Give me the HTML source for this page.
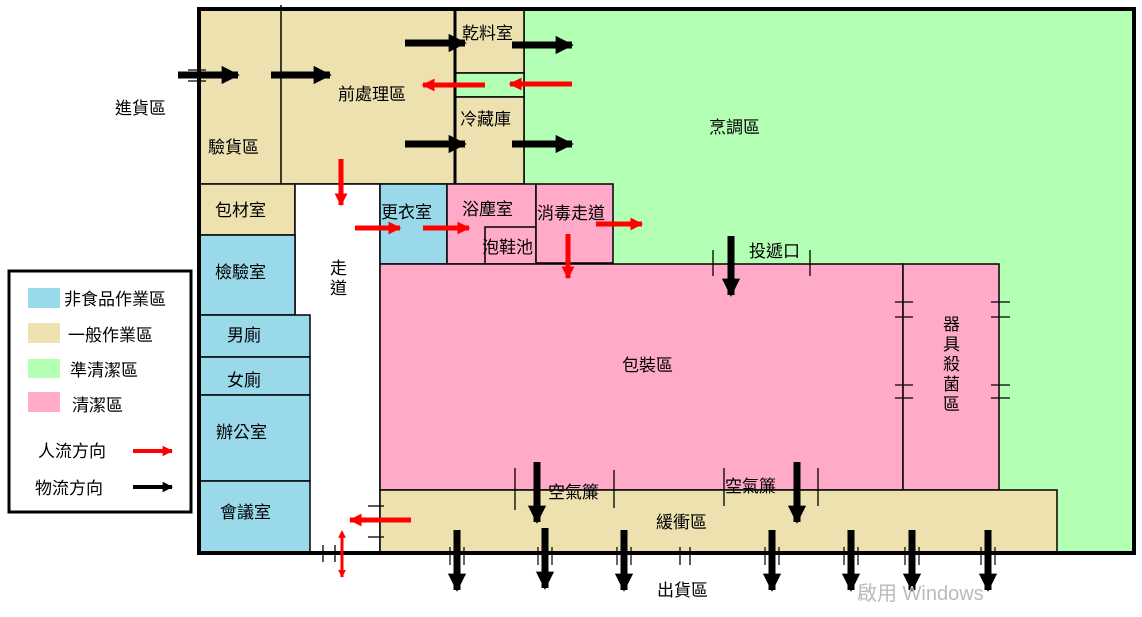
<!DOCTYPE html>
<html><head><meta charset="utf-8"><style>
body{margin:0;background:#fff;width:1142px;height:612px;overflow:hidden}
svg text{font-family:"Liberation Sans","Noto Sans CJK TC",sans-serif;font-size:17px;fill:#000}
</style></head><body>
<svg width="1142" height="612" viewBox="0 0 1142 612" xmlns="http://www.w3.org/2000/svg">
<defs>
<marker id="hb" viewBox="0 0 10 10" refX="9" refY="5" markerWidth="2.6" markerHeight="3.4" orient="auto" markerUnits="strokeWidth"><path d="M0,0L10,5L0,10z" fill="#000"/></marker>
<marker id="hr" viewBox="0 0 10 10" refX="9" refY="5" markerWidth="2.6" markerHeight="3.4" orient="auto" markerUnits="strokeWidth"><path d="M0,0L10,5L0,10z" fill="#f00"/></marker>
<marker id="hrs" viewBox="0 0 10 10" refX="1" refY="5" markerWidth="2.6" markerHeight="3.4" orient="auto-start-reverse" markerUnits="strokeWidth"><path d="M0,0L10,5L0,10z" fill="#f00"/></marker>
</defs>
<g stroke="#000" stroke-width="1.5">
<rect x="524" y="9" width="610" height="544" fill="#b3ffb3"/>
<rect x="199" y="9" width="256" height="175" fill="#ede1b0"/>
<rect x="455" y="9" width="69" height="64" fill="#ede1b0"/>
<rect x="455" y="73" width="69" height="24" fill="#b3ffb3"/>
<rect x="455" y="97" width="69" height="87" fill="#ede1b0"/>
<rect x="199" y="184" width="96" height="51" fill="#ede1b0"/>
<rect x="295" y="184" width="85" height="369" fill="#fff"/>
<rect x="199" y="235" width="96" height="80" fill="#99d9ea"/>
<rect x="199" y="315" width="111" height="42" fill="#99d9ea"/>
<rect x="199" y="357" width="111" height="38" fill="#99d9ea"/>
<rect x="199" y="395" width="111" height="86" fill="#99d9ea"/>
<rect x="199" y="481" width="111" height="72" fill="#99d9ea"/>
<rect x="380" y="184" width="67" height="80" fill="#99d9ea"/>
<rect x="447" y="184" width="89" height="80" fill="#ffaac9"/>
<rect x="485" y="227" width="51" height="37" fill="#ffaac9"/>
<rect x="536" y="184" width="77" height="79" fill="#ffaac9"/>
<rect x="380" y="264" width="523" height="226" fill="#ffaac9"/>
<rect x="903" y="264" width="96" height="226" fill="#ffaac9"/>
<rect x="380" y="490" width="677" height="63" fill="#ede1b0"/>
<line x1="281" y1="5" x2="281" y2="184"/>
</g>
<rect x="199" y="9" width="935" height="544" fill="none" stroke="#000" stroke-width="4"/>
<line x1="455" y1="9" x2="455" y2="184" stroke="#000" stroke-width="3"/>
<g stroke="#000" stroke-width="1.3">
<line x1="188" y1="70" x2="206" y2="70"/><line x1="188" y1="81" x2="206" y2="81"/>
<line x1="713" y1="250" x2="713" y2="276"/><line x1="810" y1="250" x2="810" y2="276"/>
<line x1="895" y1="302" x2="913" y2="302"/><line x1="895" y1="317" x2="913" y2="317"/>
<line x1="895" y1="385" x2="913" y2="385"/><line x1="895" y1="398" x2="913" y2="398"/>
<line x1="991" y1="302" x2="1010" y2="302"/><line x1="991" y1="317" x2="1010" y2="317"/>
<line x1="991" y1="385" x2="1010" y2="385"/><line x1="991" y1="398" x2="1010" y2="398"/>
<line x1="515" y1="468" x2="515" y2="510"/><line x1="614" y1="470" x2="614" y2="508"/>
<line x1="724" y1="468" x2="724" y2="506"/><line x1="818" y1="468" x2="818" y2="506"/>
<line x1="368" y1="506" x2="384" y2="506"/>
<line x1="368" y1="537" x2="384" y2="537"/>
<line x1="323" y1="545" x2="323" y2="562"/><line x1="335" y1="545" x2="335" y2="562"/>
<line x1="680" y1="547" x2="680" y2="565"/><line x1="690" y1="547" x2="690" y2="565"/>
</g>
<g stroke="#000" stroke-width="1.2">
<line x1="450" y1="547" x2="450" y2="565"/><line x1="464" y1="547" x2="464" y2="565"/>
<line x1="538" y1="547" x2="538" y2="565"/><line x1="552" y1="547" x2="552" y2="565"/>
<line x1="617" y1="547" x2="617" y2="565"/><line x1="631" y1="547" x2="631" y2="565"/>
<line x1="765" y1="547" x2="765" y2="565"/><line x1="779" y1="547" x2="779" y2="565"/>
<line x1="844" y1="547" x2="844" y2="565"/><line x1="858" y1="547" x2="858" y2="565"/>
<line x1="905" y1="547" x2="905" y2="565"/><line x1="919" y1="547" x2="919" y2="565"/>
<line x1="981" y1="547" x2="981" y2="565"/><line x1="995" y1="547" x2="995" y2="565"/>
</g>
<g stroke="#000" stroke-width="7" marker-end="url(#hb)">
<line x1="178" y1="75" x2="238" y2="75"/>
<line x1="271" y1="75" x2="330" y2="75"/>
<line x1="405" y1="43" x2="465" y2="43"/>
<line x1="512" y1="45" x2="572" y2="45"/>
<line x1="405" y1="144" x2="465" y2="144"/>
<line x1="512" y1="144" x2="572" y2="144"/>
<line x1="731" y1="236" x2="731" y2="295"/>
<line x1="537" y1="462" x2="537" y2="522"/>
<line x1="797" y1="462" x2="797" y2="522"/>
<line x1="457" y1="530" x2="457" y2="590"/>
<line x1="545" y1="528" x2="545" y2="588"/>
<line x1="624" y1="530" x2="624" y2="590"/>
<line x1="772" y1="530" x2="772" y2="590"/>
<line x1="851" y1="530" x2="851" y2="590"/>
<line x1="912" y1="530" x2="912" y2="590"/>
<line x1="988" y1="530" x2="988" y2="590"/>
</g>
<g stroke="#f00" stroke-width="5" marker-end="url(#hr)">
<line x1="485" y1="85" x2="423" y2="85"/>
<line x1="572" y1="84" x2="510" y2="84"/>
<line x1="341" y1="159" x2="341" y2="205"/>
<line x1="568" y1="234" x2="568" y2="278"/>
<line x1="355" y1="228" x2="400" y2="228"/>
<line x1="423" y1="228" x2="469" y2="228"/>
<line x1="596" y1="224" x2="642" y2="224"/>
<line x1="411" y1="520" x2="350" y2="520"/>
<line x1="342" y1="537" x2="342" y2="577" stroke-width="3" marker-start="url(#hrs)"/>
</g>
<rect x="9" y="271" width="182" height="241" fill="#fff" stroke="#000" stroke-width="3"/>
<rect x="28" y="288" width="32" height="20" fill="#99d9ea"/>
<rect x="28" y="323" width="32" height="20" fill="#ede1b0"/>
<rect x="28" y="359" width="32" height="19" fill="#b3ffb3"/>
<rect x="28" y="392" width="32" height="20" fill="#ffaac9"/>
<line x1="133" y1="451" x2="172" y2="451" stroke="#f00" stroke-width="4" marker-end="url(#hr)"/>
<line x1="133" y1="487" x2="172" y2="487" stroke="#000" stroke-width="4" marker-end="url(#hb)"/>
<text x="64" y="305">非食品作業區</text>
<text x="68" y="341">一般作業區</text>
<text x="70" y="376">準清潔區</text>
<text x="72" y="411">清潔區</text>
<text x="38" y="457">人流方向</text>
<text x="35" y="494">物流方向</text>
<text x="115" y="114">進貨區</text>
<text x="208" y="153">驗貨區</text>
<text x="338" y="100">前處理區</text>
<text x="462" y="39">乾料室</text>
<text x="460" y="125">冷藏庫</text>
<text x="709" y="133">烹調區</text>
<text x="215" y="216">包材室</text>
<text x="215" y="278">檢驗室</text>
<text x="330" y="274">走</text>
<text x="330" y="294">道</text>
<text x="227" y="341">男廁</text>
<text x="227" y="386">女廁</text>
<text x="216" y="438">辦公室</text>
<text x="220" y="518">會議室</text>
<text x="381" y="218">更衣室</text>
<text x="462" y="215">浴塵室</text>
<text x="482" y="253">泡鞋池</text>
<text x="537" y="219">消毒走道</text>
<text x="749" y="257">投遞口</text>
<text x="622" y="371">包裝區</text>
<text x="943" y="330">器</text>
<text x="943" y="350">具</text>
<text x="943" y="370">殺</text>
<text x="943" y="390">菌</text>
<text x="943" y="410">區</text>
<text x="548" y="498">空氣簾</text>
<text x="725" y="492">空氣簾</text>
<text x="656" y="528">緩衝區</text>
<text x="657" y="596">出貨區</text>
<text x="857" y="600" style="fill:#bbb;font-size:20px">啟用 Windows</text>
</svg>
</body></html>
